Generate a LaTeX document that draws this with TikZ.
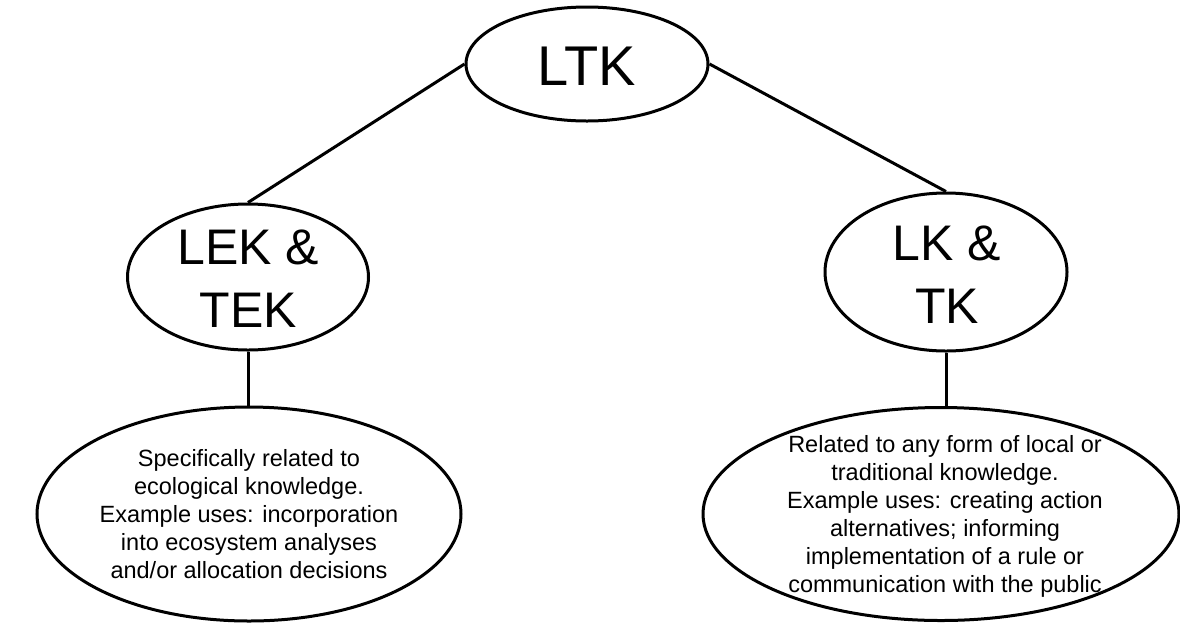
\documentclass[tikz,border=0pt]{standalone}
\usepackage{fontspec}
\setmainfont{Liberation Sans}
\usetikzlibrary{shapes.geometric}
\begin{document}
\begin{tikzpicture}[x=1pt,y=-1pt,
  oval/.style={draw=black,line width=3pt,ellipse,inner sep=0pt,fill=white},
  big/.style={font=\fontsize{56}{62}\selectfont,inner sep=0pt},
  mid/.style={font=\fontsize{50}{63}\selectfont,inner sep=0pt,align=center,anchor=north},
  small/.style={font=\fontsize{23.5}{28.1}\selectfont,inner sep=0pt,align=center,anchor=north},
  link/.style={draw=black,line width=3pt}]
\useasboundingbox[fill=white] (0,0) rectangle (1180,622);
% shapes
\node[oval,minimum width=242pt,minimum height=114pt] (ltk) at (587,64) {};
\node[oval,minimum width=241pt,minimum height=146pt] (lek) at (248,277) {};
\node[oval,minimum width=242pt,minimum height=158pt] (lk) at (946,272) {};
\node[oval,minimum width=424pt,minimum height=214pt] (d1) at (249,514) {};
\node[oval,minimum width=476pt,minimum height=213pt] (d2) at (941,514) {};
% connectors
\draw[link] (ltk.west) -- (lek.north);
\draw[link] (ltk.east) -- (lk.north);
\draw[link] (lek.south) -- (lek.south |- d1.north);
\draw[link] (lk.south) -- (lk.south |- d2.north);
% texts
\node[big,anchor=base] (tltk) at (587,85) {LTK};
\node[mid] (tlek) at (248.5,229.5) {LEK \&\\TEK};
\node[mid] (tlk) at (947,225.5) {LK \&\\TK};
\node[small] (td1) at (249,449) {Specifically related to\\ecological knowledge.\\Example uses: incorporation\\into ecosystem analyses\\and/or allocation decisions};
\node[small] (td2) at (945,435) {Related to any form of local or\\traditional knowledge.\\Example uses: creating action\\alternatives; informing\\implementation of a rule or\\communication with the public};
\end{tikzpicture}
\end{document}
